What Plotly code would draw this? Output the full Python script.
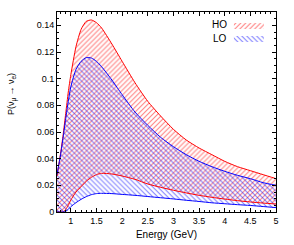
import plotly.graph_objects as go

energy = [0.73, 0.80, 0.85, 0.90, 0.95, 1.0, 1.1, 1.2, 1.3, 1.4, 1.5, 1.6, 1.8, 2.0,
          2.25, 2.5, 2.75, 3.0, 3.25, 3.5, 3.75, 4.0, 4.25, 4.5, 4.75, 5.0]
ho_max = [0.027, 0.044, 0.058, 0.074, 0.090, 0.103, 0.124, 0.137, 0.143, 0.144, 0.142,
          0.138, 0.126, 0.113, 0.097, 0.083, 0.072, 0.062, 0.054, 0.048, 0.043, 0.038,
          0.034, 0.031, 0.028, 0.025]
ho_min = [0.0, 0.0, 0.0, 0.002, 0.005, 0.009, 0.015, 0.019, 0.023, 0.026, 0.028, 0.029,
          0.0285, 0.027, 0.0245, 0.021, 0.0185, 0.0163, 0.0143, 0.0125, 0.011, 0.0097,
          0.0085, 0.0075, 0.0067, 0.006]
lo_max = [0.028, 0.043, 0.056, 0.070, 0.083, 0.094, 0.107, 0.113, 0.1158, 0.1155, 0.113,
          0.109, 0.099, 0.088, 0.075, 0.065, 0.056, 0.049, 0.043, 0.038, 0.034, 0.0305,
          0.0275, 0.025, 0.022, 0.020]
lo_min = [0.0, 0.0, 0.0, 0.0005, 0.002, 0.004, 0.007, 0.0095, 0.0115, 0.013, 0.0138,
          0.014, 0.0138, 0.0132, 0.0125, 0.0116, 0.0107, 0.0098, 0.0088, 0.0079, 0.0069,
          0.0062, 0.0055, 0.0049, 0.0041, 0.0033]

RED = "rgb(255,0,0)"
BLUE = "rgb(0,0,255)"
FONT = "Liberation Sans, Arial, sans-serif"

fig = go.Figure()

def band(upper, lower, color, shape, legend):
    fig.add_trace(go.Scatter(
        x=energy + energy[::-1], y=upper + lower[::-1],
        mode="lines", line=dict(width=0, shape="spline", smoothing=0.6),
        fill="toself", fillcolor="rgba(0,0,0,0)",
        fillpattern=dict(shape=shape, fgcolor=color, bgcolor="rgba(0,0,0,0)",
                         size=3.5, solidity=0.3, fillmode="overlay"),
        name=" ", legend=legend, showlegend=True, hoverinfo="skip"))

def curve(vals, color):
    fig.add_trace(go.Scatter(x=energy, y=vals, mode="lines",
                             line=dict(color=color, width=1, shape="spline", smoothing=0.6),
                             showlegend=False, hoverinfo="skip"))

band(ho_max, ho_min, RED, "/", "legend")
band(lo_max, lo_min, BLUE, "\\", "legend2")
curve(ho_max, RED)
curve(ho_min, RED)
curve(lo_max, BLUE)
curve(lo_min, BLUE)

axis_common = dict(showline=True, linecolor="black", linewidth=1, mirror="allticks",
                   ticks="inside", ticklen=4, tickcolor="black", showgrid=False,
                   zeroline=False, tickfont=dict(family=FONT, size=9, color="black"))

fig.update_xaxes(range=[0.73, 5.0], dtick=0.5, tick0=1.0,
                 minor=dict(dtick=0.1, ticks="inside", ticklen=2, tickcolor="black"),
                 title=dict(text="Energy (GeV)", font=dict(family=FONT, size=10, color="black"),
                            standoff=6),
                 **axis_common)
fig.update_yaxes(range=[0, 0.15], dtick=0.02, tick0=0,
                 minor=dict(dtick=0.005, ticks="inside", ticklen=2, tickcolor="black"),
                 **axis_common)

leg = dict(xanchor="left", yanchor="middle", bgcolor="rgba(0,0,0,0)", borderwidth=0,
           font=dict(family=FONT, size=10, color="black"), itemwidth=30)
fig.update_layout(
    width=294, height=245,
    margin=dict(l=57, r=18, t=12, b=33, autoexpand=False),
    paper_bgcolor="white", plot_bgcolor="white",
    font=dict(family=FONT, size=10, color="black"),
    legend=dict(x=0.785, y=0.935, **leg),
    legend2=dict(x=0.785, y=0.87, **leg),
    annotations=[
        dict(text="HO", x=0.785, y=0.935, xref="paper", yref="paper", xanchor="right",
             yanchor="middle", showarrow=False, font=dict(family=FONT, size=10)),
        dict(text="LO", x=0.785, y=0.87, xref="paper", yref="paper", xanchor="right",
             yanchor="middle", showarrow=False, font=dict(family=FONT, size=10)),
        dict(text="P(ν<sub>μ</sub> → ν<sub>e</sub>)", x=-0.205, y=0.59, xref="paper",
             yref="paper", textangle=-90, xanchor="center", yanchor="middle",
             showarrow=False, font=dict(family=FONT, size=9)),
    ],
)

fig.write_html("out.html", config={"displayModeBar": False},
               post_script="document.body.style.margin='0';")
